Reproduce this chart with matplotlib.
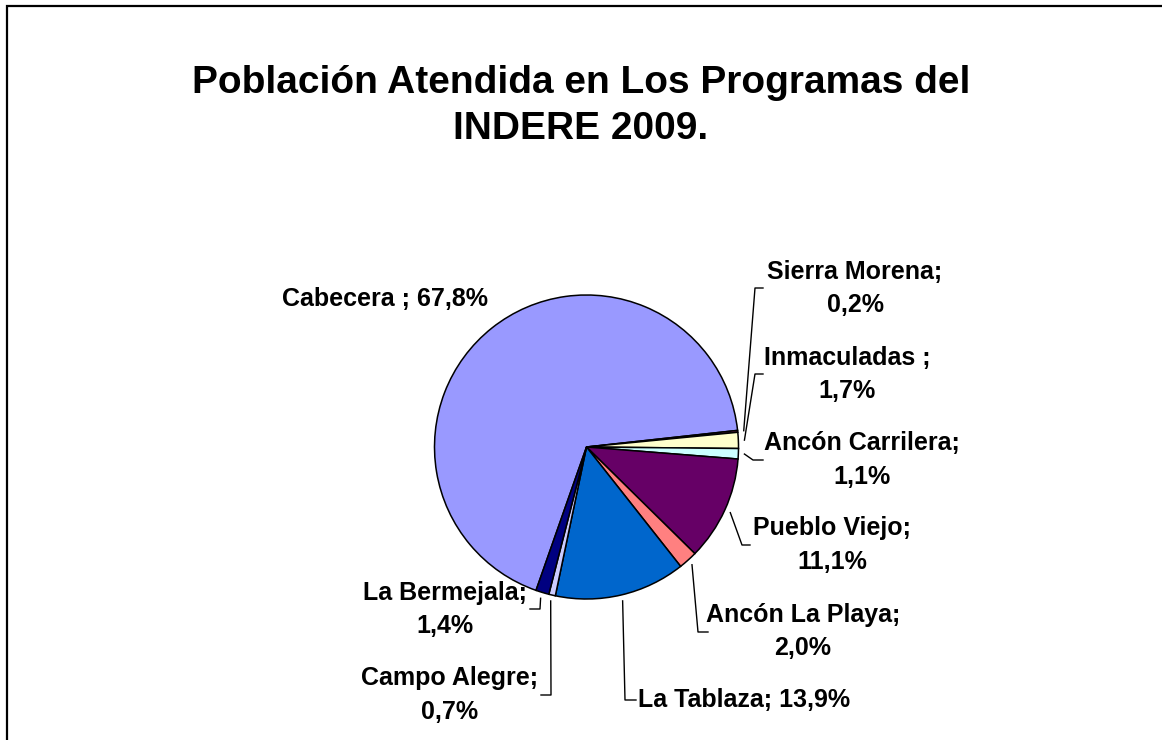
import matplotlib
matplotlib.use('Agg')
import matplotlib.pyplot as plt
import numpy as np

plt.rcParams['font.family'] = ['Liberation Sans', 'DejaVu Sans']

# Datos
nombres = ['Cabecera ', 'Sierra Morena', 'Inmaculadas ', 'Ancón Carrilera', 'Pueblo Viejo',
           'Ancón La Playa', 'La Tablaza', 'Campo Alegre', 'La Bermejala']
porcentajes = [67.8, 0.2, 1.7, 1.1, 11.1, 2.0, 13.9, 0.7, 1.4]
colores = ['#9999FF', '#993366', '#FFFFCC', '#CCFFFF', '#660066',
           '#FF8080', '#0066CC', '#CCCCFF', '#000080']
una_linea = ['Cabecera ', 'La Tablaza']

W, H = 1162, 740


def py(y):
    # coordenada y en pixeles (desde arriba) -> datos
    return H - y


fig = plt.figure(figsize=(W / 100, H / 100), dpi=100)
ax = fig.add_axes([0, 0, 1, 1])

cx, cy, r = 586.5, py(447), 152
inicio = 250.6
wedges, _ = ax.pie(porcentajes, colors=colores, startangle=inicio, counterclock=False,
                   center=(cx, cy), radius=r,
                   wedgeprops=dict(edgecolor='black', linewidth=1.1))
ax.set_xlim(0, W)
ax.set_ylim(0, H)
ax.set_aspect('equal')
ax.axis('off')

# Posiciones de etiquetas (centro del bloque) y lineas guia (codo, fin)
pos_etiqueta = [(385, 299), (855, 288.5), (847, 374.5), (862, 460), (832, 545),
                (803, 631.5), (744, 700), (450, 695), (445, 609.5)]
guias = [None,
         ((755, 288), (763, 288)),
         ((755, 374), (763, 374)),
         ((753, 460), (763, 460)),
         ((742, 545), (750, 545)),
         ((698, 632), (708, 632)),
         ((625, 700), (636, 700)),
         ((551, 695), (541, 695)),
         ((540, 609), (530, 609))]

for w, nombre, val, (tx, ty), guia in zip(wedges, nombres, porcentajes, pos_etiqueta, guias):
    valor = f'{val:.1f}'.replace('.', ',') + '%'
    sep = ' ' if nombre in una_linea else '\n'
    texto = f'{nombre};{sep}{valor}'
    ax.text(tx, py(ty), texto, ha='center', va='center', fontsize=18,
            fontweight='bold', linespacing=1.5)
    if guia is not None:
        ang = np.deg2rad((w.theta1 + w.theta2) / 2)
        x0 = cx + 1.04 * r * np.cos(ang)
        y0 = cy + 1.04 * r * np.sin(ang)
        (ex, ey), (fx, fy) = guia
        ax.plot([x0, ex, fx], [y0, py(ey), py(fy)], color='black', linewidth=1.0)

# Titulo
ax.text(581, py(106), 'Población Atendida en Los Programas del\nINDERE 2009.',
        ha='center', va='center', fontsize=28, fontweight='bold', linespacing=1.34)

# Marco del grafico (solo izquierda y arriba visibles)
ax.plot([6.5, 6.5, W], [0, py(5.5), py(5.5)], color='black', linewidth=1.6,
        solid_joinstyle='miter')

plt.savefig('out.png', dpi=100)
plt.close(fig)
